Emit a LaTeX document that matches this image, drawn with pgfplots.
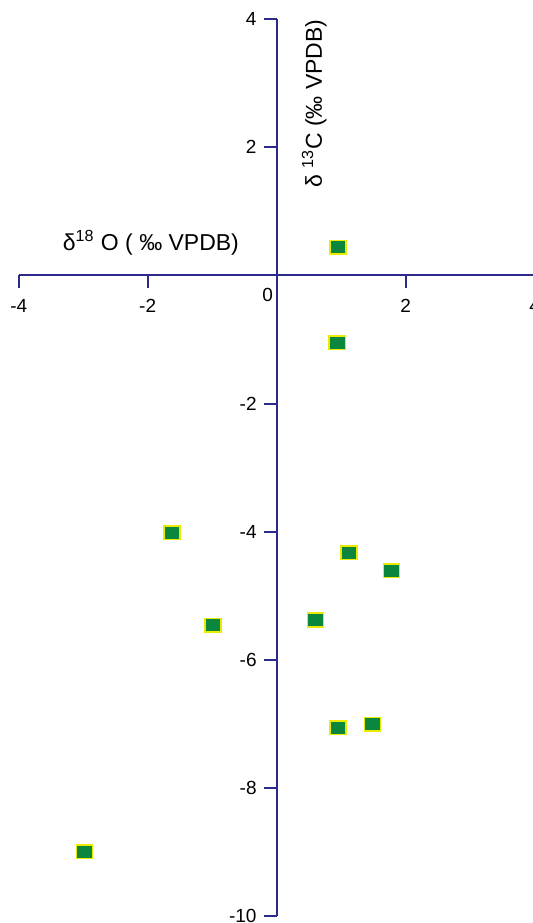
\documentclass[border=0pt]{standalone}
\usepackage{fontspec}
\setmainfont{Liberation Sans}
\usepackage{pgfplots}
\pgfplotsset{compat=1.18}
\definecolor{axblue}{RGB}{45,42,140}
\definecolor{mgreen}{RGB}{10,135,60}
\definecolor{myellow}{RGB}{235,235,0}
\begin{document}
\begin{tikzpicture}
\begin{axis}[
  scale only axis, width=258pt, height=448.5pt,
  xmin=-4, xmax=4, ymin=-10, ymax=4,
  axis lines=middle,
  axis line style={axblue, line width=1pt, -},
  xtick={-4,-2,2,4}, ytick={-10,-8,-6,-4,-2,2,4},
  tick style={axblue, line width=1pt},
  major tick length=6.5pt,
  tick align=outside,
  /pgf/number format/assume math mode=true,
  ticklabel style={font=\fontsize{9.5}{11}\selectfont},
  xticklabel style={yshift=-2pt},
  clip=false,
]
\addplot[only marks, mark=square*, mark size=3.4pt,
  mark options={fill=mgreen, draw=myellow, line width=0.75pt, xscale=1.18}]
  coordinates {
  (0.95,0.44) (0.94,-1.05) (-1.62,-4.02) (1.12,-4.33) (1.78,-4.61)
  (-0.99,-5.46) (0.60,-5.38) (0.95,-7.06) (1.49,-7.01) (-2.98,-9.0)
  };
\node[anchor=base, font=\fontsize{11.5}{13}\selectfont] at (axis cs:-1.95,0.39) {δ\textsuperscript{18} O ( ‰ VPDB)};
\node[anchor=base, rotate=90, font=\fontsize{11.5}{13}\selectfont] at (axis cs:0.70,2.68) {δ \textsuperscript{13}C (‰ VPDB)};
\node[font=\fontsize{9.5}{11}\selectfont] at (axis cs:-0.14,-0.3) {0};
\coordinate (bl) at (axis cs:-4.29,-10.11);
\coordinate (tr) at (axis cs:3.97,4.30);
\end{axis}
\pgfresetboundingbox
\useasboundingbox (bl) rectangle (tr);
\end{tikzpicture}
\end{document}
